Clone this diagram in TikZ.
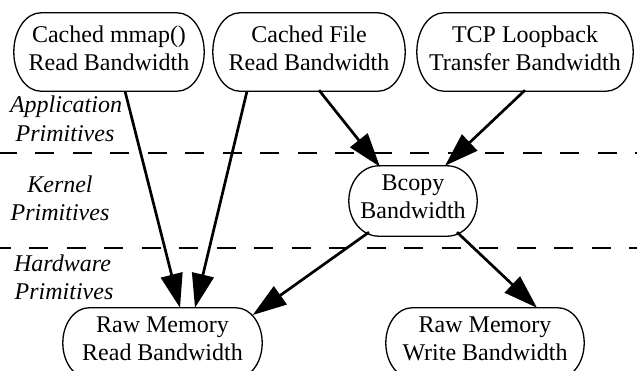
\documentclass[tikz,border=0pt]{standalone}
\usepackage{fontspec}
\setmainfont{Liberation Serif}
\usetikzlibrary{arrows.meta,calc}
\newcommand\ovalframe[2]{%
  \draw[frame] let \p1=(#1.center), \p2=(#1.north east), \p3=(#1.south west),
      \n1={0.5523*#2}, \n2={0.5523*(\y2-\y1)} in
    ({\x2-#2},\y2) .. controls ({\x2-#2+\n1},\y2) and (\x2,{\y1+\n2}) .. (\x2,\y1)
    .. controls (\x2,{\y1-\n2}) and ({\x2-#2+\n1},\y3) .. ({\x2-#2},\y3)
    -- ({\x3+#2},\y3) .. controls ({\x3+#2-\n1},\y3) and (\x3,{\y1-\n2}) .. (\x3,\y1)
    .. controls (\x3,{\y1+\n2}) and ({\x3+#2-\n1},\y2) .. ({\x3+#2},\y2) -- cycle;}
\begin{document}
\begin{tikzpicture}[x=1pt,y=-1pt,
  box/.style={inner sep=0pt, align=center, font=\fontsize{24}{28}\selectfont,
    execute at begin node=\strut, execute at end node=\strut},
  frame/.style={draw=black, line width=1.3pt},
  lbl/.style={anchor=base, inner sep=0pt, font=\fontsize{24}{28}\selectfont\itshape},
  sep/.style={draw=black, line width=1.3pt, dash pattern=on 19pt off 18.5pt},
  arr/.style={draw=black, line width=2.7pt, -{Triangle[length=34pt,width=22pt]}}]
\useasboundingbox (0,0) rectangle (637,370);
% separators
\draw[sep] (-2.5,153) -- (640,153);
\draw[sep] (-8.5,248) -- (640,248);
% nodes
\node[box, minimum width=190pt, minimum height=78pt] (A) at (109,52) {Cached mmap()\\Read Bandwidth};
\node[box, minimum width=192pt, minimum height=78pt] (B) at (309,52) {Cached File\\Read Bandwidth};
\node[box, minimum width=216pt, minimum height=78pt] (C) at (525,52) {TCP Loopback\\Transfer Bandwidth};
\node[box, minimum width=128pt, minimum height=70pt] (D) at (413,201) {Bcopy\\Bandwidth};
\node[box, minimum width=199pt, minimum height=70pt] (E) at (162.5,343) {Raw Memory\\Read Bandwidth};
\node[box, minimum width=198pt, minimum height=70pt] (F) at (485,343) {Raw Memory\\Write Bandwidth};
\ovalframe{A}{27pt}
\ovalframe{B}{27pt}
\ovalframe{C}{27pt}
\ovalframe{D}{30pt}
\ovalframe{E}{26pt}
\ovalframe{F}{26pt}
% layer labels
\node[lbl] (l1) at (66,112) {Application};
\node[lbl] (l2) at (65,141) {Primitives};
\node[lbl] (l3) at (60,192) {Kernel};
\node[lbl] (l4) at (60,220) {Primitives};
\node[lbl] (l5) at (62.5,271) {Hardware};
\node[lbl] (l6) at (64,299) {Primitives};
% connectors
\draw[arr] ($(A.south)+(16,0)$) -- ($(E.north)+(17.5,0)$);
\draw[arr] ($(B.south)+(-62,0)$) -- ($(E.north)+(32.5,0)$);
\draw[arr] ($(B.south)+(10,-1)$) -- ($(D.north)+(-33,1)$);
\draw[arr] ($(C.south)+(0,-1)$) -- ($(D.north)+(32,0)$);
\draw[arr] ($(D.south)+(-44,-4)$) -- ($(E.east)+(-9.5,-28)$);
\draw[arr] ($(D.south)+(44,-4)$) -- ($(F.north)+(52,0)$);
\end{tikzpicture}
\end{document}
